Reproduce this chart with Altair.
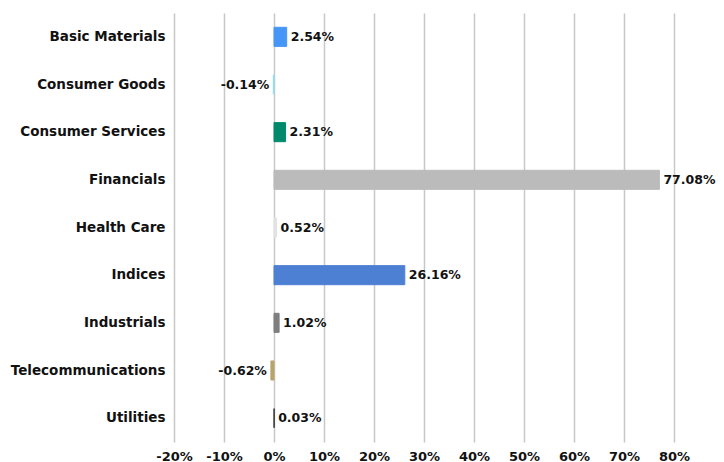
import altair as alt
import pandas as pd

sectors = ["Basic Materials", "Consumer Goods", "Consumer Services", "Financials",
           "Health Care", "Indices", "Industrials", "Telecommunications", "Utilities"]
values = [2.54, -0.14, 2.31, 77.08, 0.52, 26.16, 1.02, -0.62, 0.03]
colors = ["#4596f7", "#8fdff5", "#00896b", "#bbbbbb", "#e2e2e2", "#4d7fd3", "#7f7f7f", "#b9a46b", "#333333"]
tick_values = [-0.2, -0.1, 0.0, 0.1, 0.2, 0.3, 0.4, 0.5, 0.6, 0.7, 0.8]

df = pd.DataFrame({"sector": sectors, "value": values, "color": colors})
df["label"] = [f"{v:.2f}%" for v in values]
df["v"] = df["value"] / 100.0

FONT = "DejaVu Sans"

x = alt.X("v:Q", scale=alt.Scale(domain=[-0.2, 0.8], nice=False),
          axis=alt.Axis(values=tick_values, labelExpr="round(datum.value*100) + '%'", title=None,
                        grid=True, gridColor="#c8c8c8", gridWidth=1.5, domain=False, ticks=False,
                        labelOverlap=False, labelFlush=False, labelFont=FONT, labelFontWeight="bold",
                        labelFontSize=13, labelColor="#111111", labelPadding=8))
y = alt.Y("sector:N", sort=sectors, scale=alt.Scale(paddingInner=0.6, paddingOuter=0.3),
          axis=alt.Axis(title=None, domain=False, ticks=False, labelFont=FONT, labelFontWeight="bold",
                        labelFontSize=13.5, labelColor="#111111", labelPadding=9))

bars = alt.Chart(df).mark_bar(strokeWidth=1).encode(
    x=x, y=y, color=alt.Color("color:N", scale=None), stroke=alt.Color("color:N", scale=None))

pos = alt.Chart(df[df["value"] >= 0]).mark_text(align="left", dx=4, font=FONT, fontWeight="bold",
                                                fontSize=12.5, color="#111111").encode(
    x="v:Q", y=alt.Y("sector:N", sort=sectors), text="label:N")
neg = alt.Chart(df[df["value"] < 0]).mark_text(align="right", dx=-4, font=FONT, fontWeight="bold",
                                               fontSize=12.5, color="#111111").encode(
    x="v:Q", y=alt.Y("sector:N", sort=sectors), text="label:N")

chart = alt.layer(bars, pos, neg).properties(
    width=500, height=429,
    autosize=alt.AutoSizeParams(type="none"),
    padding={"left": 166, "top": 5, "right": 42, "bottom": 20},
).configure_view(stroke=None)

chart.save("out.html", embed_options={"renderer": "svg", "actions": False})
